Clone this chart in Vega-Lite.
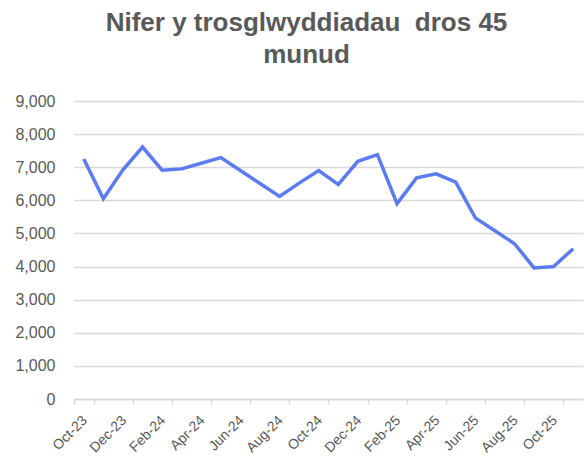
{
  "$schema": "https://vega.github.io/schema/vega-lite/v6.json",
  "width": 509,
  "height": 298,
  "autosize": {"type": "none"},
  "padding": {"left": 74, "top": 101, "right": 3, "bottom": 58},
  "background": "white",
  "title": {
    "text": ["Nifer y trosglwyddiadau \u00a0dros 45", "munud"],
    "font": "Liberation Sans",
    "fontSize": 26,
    "fontWeight": "bold",
    "color": "#595959",
    "anchor": "middle",
    "dx": -22,
    "offset": 25,
    "lineHeight": 32
  },
  "data": {
    "values": [
      {"month": "Oct-23", "value": 7250},
      {"month": "Nov-23", "value": 6050},
      {"month": "Dec-23", "value": 6920},
      {"month": "Jan-24", "value": 7610},
      {"month": "Feb-24", "value": 6910},
      {"month": "Mar-24", "value": 6950},
      {"month": "Apr-24", "value": 7120},
      {"month": "May-24", "value": 7290},
      {"month": "Jun-24", "value": 6900},
      {"month": "Jul-24", "value": 6510},
      {"month": "Aug-24", "value": 6120},
      {"month": "Sep-24", "value": 6520},
      {"month": "Oct-24", "value": 6900},
      {"month": "Nov-24", "value": 6480},
      {"month": "Dec-24", "value": 7180},
      {"month": "Jan-25", "value": 7380},
      {"month": "Feb-25", "value": 5900},
      {"month": "Mar-25", "value": 6680},
      {"month": "Apr-25", "value": 6800},
      {"month": "May-25", "value": 6550},
      {"month": "Jun-25", "value": 5470},
      {"month": "Jul-25", "value": 5080},
      {"month": "Aug-25", "value": 4690},
      {"month": "Sep-25", "value": 3960},
      {"month": "Oct-25", "value": 4000},
      {"month": "Nov-25", "value": 4540}
    ]
  },
  "mark": {"type": "line", "color": "#5B7BEF", "strokeWidth": 3.5, "strokeJoin": "miter", "strokeCap": "butt"},
  "encoding": {
    "x": {
      "field": "month",
      "type": "ordinal",
      "sort": null,
      "scale": {"type": "band", "paddingInner": 0, "paddingOuter": 0},
      "axis": {
        "title": null,
        "values": ["Oct-23", "Dec-23", "Feb-24", "Apr-24", "Jun-24", "Aug-24", "Oct-24", "Dec-24", "Feb-25", "Apr-25", "Jun-25", "Aug-25", "Oct-25"],
        "tickBand": "extent",
        "labelAngle": -45,
        "labelFont": "Liberation Sans",
        "labelFontSize": 14,
        "labelColor": "#595959",
        "domainColor": "#D9D9D9",
        "domainWidth": 1.5,
        "tickColor": "#D9D9D9",
        "tickWidth": 1.5,
        "tickSize": 5,
        "grid": false,
        "labelPadding": 9,
        "labelOffset": -4
      }
    },
    "y": {
      "field": "value",
      "type": "quantitative",
      "scale": {"domain": [0, 9000], "nice": false},
      "axis": {
        "title": null,
        "values": [0, 1000, 2000, 3000, 4000, 5000, 6000, 7000, 8000, 9000],
        "format": ",.0f",
        "domain": false,
        "ticks": false,
        "grid": true,
        "gridColor": "#D9D9D9",
        "gridWidth": 1.5,
        "labelFont": "Liberation Sans",
        "labelFontSize": 16,
        "labelColor": "#595959",
        "labelPadding": 19
      }
    }
  },
  "config": {"view": {"stroke": null}}
}
